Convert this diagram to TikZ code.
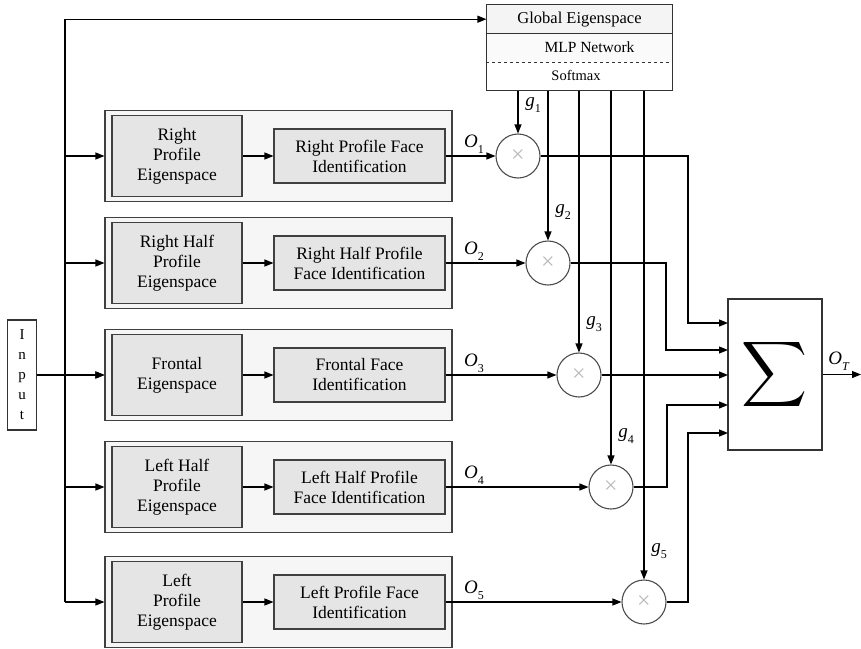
\documentclass[tikz,border=0pt]{standalone}
\usepackage{fontspec}
\setmainfont{Liberation Serif}
\usepackage{graphicx}
\usetikzlibrary{arrows.meta}
\newcommand\sublab[2]{\textit{#1}\raisebox{-0.3em}{\fontsize{12}{12}\selectfont #2}}
\begin{document}
\begin{tikzpicture}[x=1pt,y=-1pt,
  line width=1.1pt,
  arr/.style={-{Triangle[length=9pt,width=7pt]}},
  outerbox/.style={draw=black!75,fill=gray!7,minimum width=347pt,minimum height=91pt,inner sep=0pt},
  eigbox/.style={draw=black!75,fill=gray!20,minimum width=130pt,minimum height=81pt,inner sep=0pt,align=center,font=\fontsize{17.5}{20}\selectfont},
  idbox/.style={draw=black!75,fill=gray!20,minimum width=171pt,minimum height=54pt,inner sep=0pt,align=center,font=\fontsize{17.5}{20}\selectfont},
  gsec/.style={minimum width=185pt,minimum height=28.33pt,inner sep=0pt},
  mult/.style={circle,draw=black!70,minimum size=44pt,inner sep=0pt,font=\fontsize{24}{24}\selectfont,text=gray!55},
  lab/.style={inner sep=0pt,font=\fontsize{19}{19}\selectfont}
]
\useasboundingbox (0,0) rectangle (861,648);

% global eigenspace block
\node[gsec,fill=gray!9,font=\fontsize{16.5}{19}\selectfont] (gtitle) at (579.5,19.2) {Global Eigenspace};
\node[gsec,fill=gray!4,font=\fontsize{15.5}{17}\selectfont] (gmlp) at (579.5,47.5) {\hspace*{20pt}MLP Network};
\node[gsec,fill=white,font=\fontsize{14.5}{17}\selectfont] (gsoft) at (579.5,75.8) {Softmax\hspace*{7pt}};
\draw[draw=black!80] (gtitle.north west) rectangle (gsoft.south east);
\draw[draw=black!80] (gtitle.south west) -- (gtitle.south east);
\draw[draw=black!80,dashed] (gmlp.south west) -- (gmlp.south east);

% input
\node[draw=black!80,minimum width=29pt,minimum height=110pt,inner sep=0pt,align=center,font=\fontsize{15}{20}\selectfont] (input) at (22,375) {I\\n\\p\\u\\t};

% left bus
\coordinate (vtop) at (65,19.2);
\coordinate (vbot) at (65,602);
\draw (vbot) -- (vtop);
\draw[arr] (vtop) -- (gtitle.west);

% sum block
\node[draw=black!80,fill=white,minimum width=94pt,minimum height=151pt,inner sep=0pt] (sum) at (775,374.5) {\resizebox{66pt}{!}{$\displaystyle\sum$}};
\coordinate (out) at (861,374.5);
\draw[arr] (sum.east) -- (out);
\node[lab,anchor=south] (ot) at (839,371) {\sublab{O}{\textit{T}}};

% rows
\foreach \i/\y/\cx/\ltxt/\rtxt in {
  1/156/518/{Right\\Profile\\Eigenspace}/{Right Profile Face\\Identification},
  2/263/548/{Right Half\\Profile\\Eigenspace}/{Right Half Profile\\Face Identification},
  3/375/579/{Frontal\\Eigenspace}/{Frontal Face\\Identification},
  4/487/611/{Left Half\\Profile\\Eigenspace}/{Left Half Profile\\Face Identification},
  5/602/644/{Left\\Profile\\Eigenspace}/{Left Profile Face\\Identification}}{
  \node[outerbox] (row\i) at (278.5,\y) {};
  \node[eigbox] (eig\i) at (177,\y) {\ltxt};
  \node[idbox] (id\i) at (359.5,\y) {\rtxt};
  \draw[arr] (eig\i) -- (id\i);
  \coordinate (v\i) at (65,\y);
  \draw[arr] (v\i) -- (row\i.west);
  \node[mult] (m\i) at (\cx,\y) {×};
  \draw[arr] (id\i.east) -- (m\i.west);
  \node[lab] (o\i) at (474,\y-12) {\sublab{O}{\i}};
  \draw[arr] (gsoft.south -| m\i.north) -- (m\i.north);
  \node[lab] (g\i) at (\cx+15,\y-51) {\sublab{g}{\i}};
}

% input to frontal row
\draw[arr] (input.east) -- (row3.west);

% multipliers to sum
\coordinate (k1) at (688,156);
\coordinate (s1) at (728,323);
\draw[arr] (m1.east) -- (k1) |- (s1);
\coordinate (k2) at (666,263);
\coordinate (s2) at (728,350);
\draw[arr] (m2.east) -- (k2) |- (s2);
\coordinate (s3) at (728,375);
\draw[arr] (m3.east) -- (s3);
\coordinate (k4) at (667,487);
\coordinate (s4) at (728,405);
\draw[arr] (m4.east) -- (k4) |- (s4);
\coordinate (k5) at (688,602);
\coordinate (s5) at (728,433);
\draw[arr] (m5.east) -- (k5) |- (s5);
\end{tikzpicture}
\end{document}
